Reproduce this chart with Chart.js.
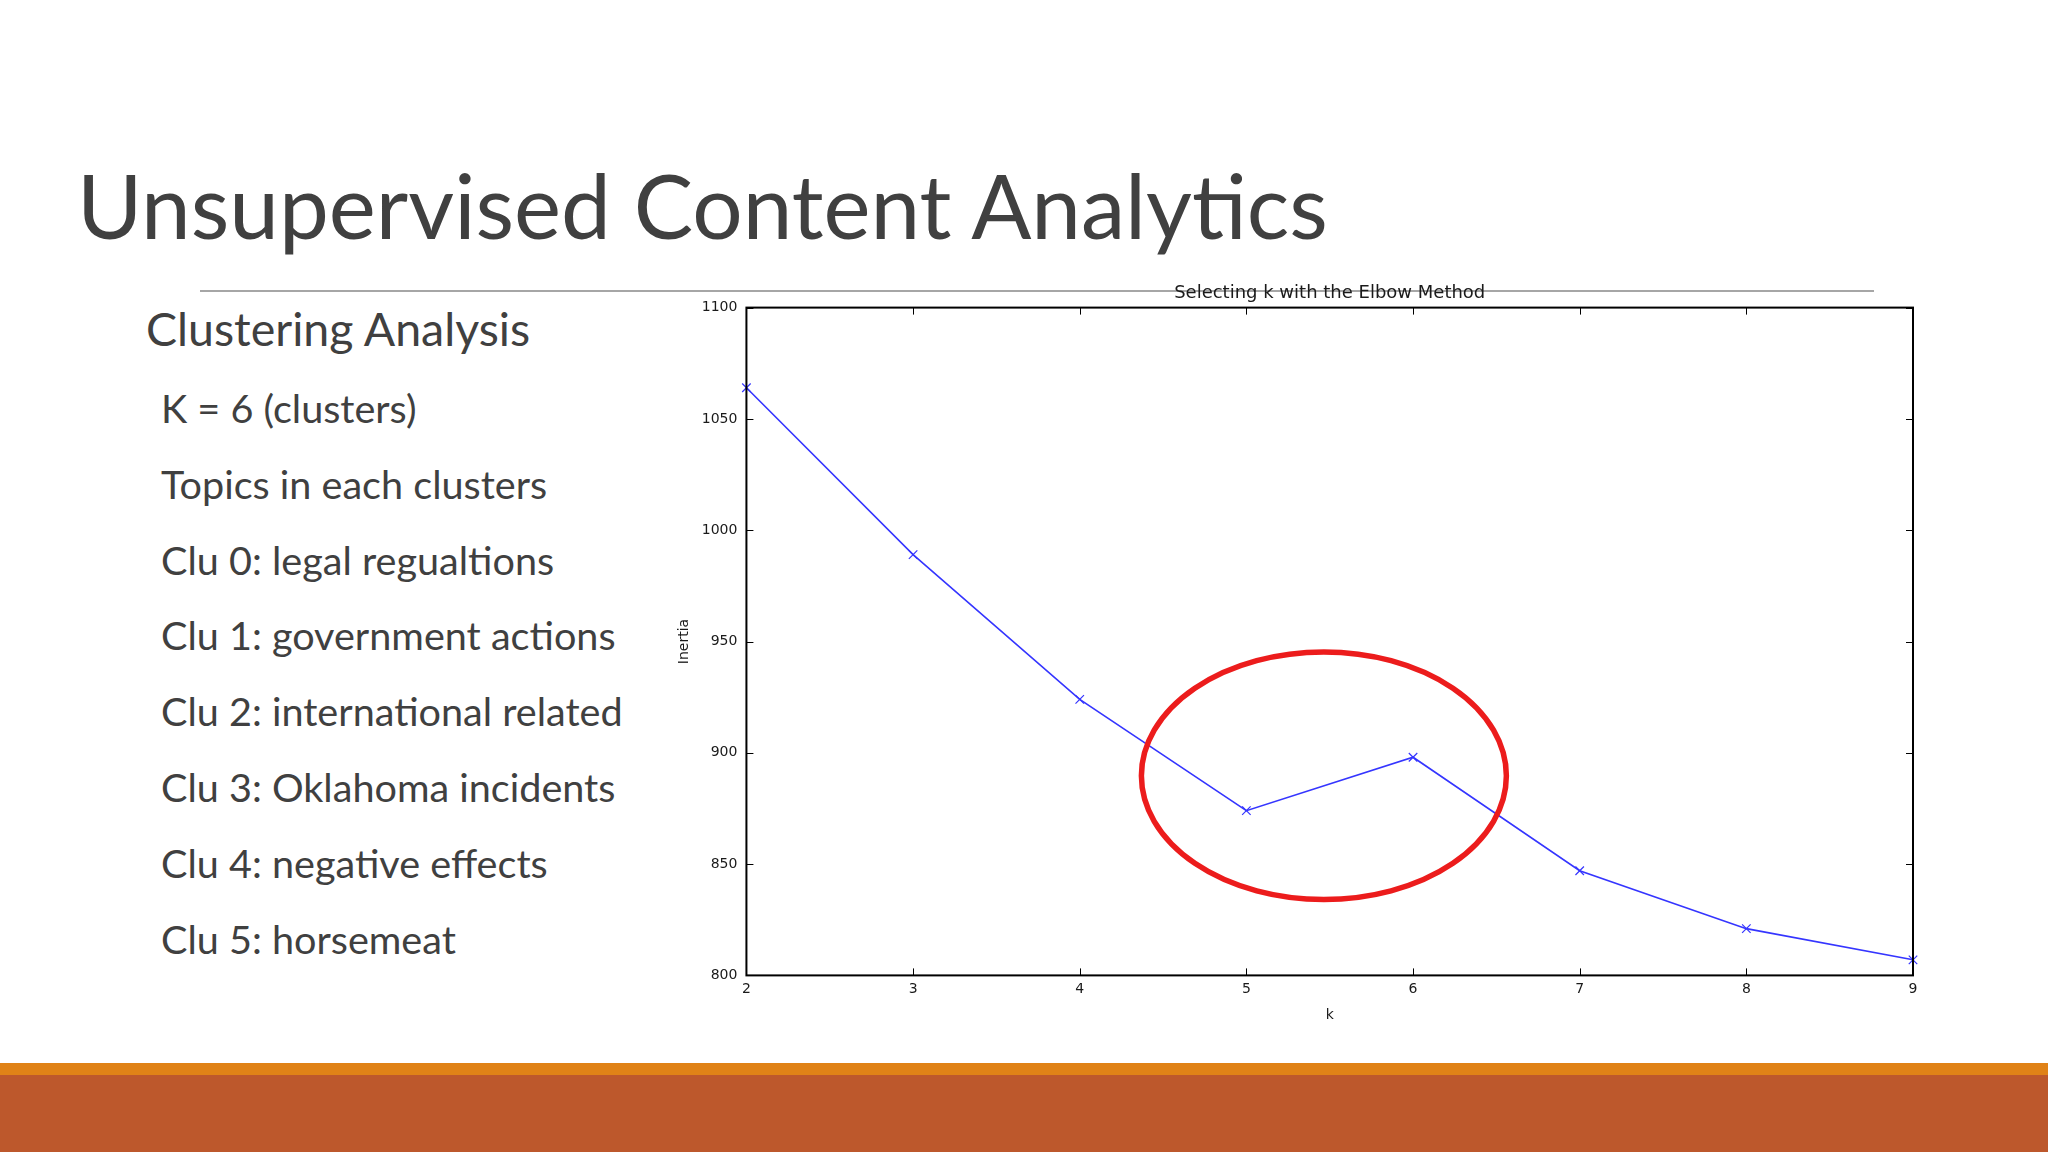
<!DOCTYPE html>
<html>
<head>
<meta charset="utf-8">
<script src="https://cdn.jsdelivr.net/npm/chart.js"></script>
<style>
  html, body { margin: 0; padding: 0; }
  body {
    width: 2048px; height: 1152px; position: relative; overflow: hidden;
    background: #ffffff; font-family: Lato, 'Open Sans', sans-serif; color: #404040;
  }
  #title { position: absolute; left: 77px; top: 160px; font-size: 89px; line-height: 1; white-space: nowrap; }
  #rule { position: absolute; left: 200px; top: 290px; width: 1674px; height: 2px; background: #a6a6a6; }
  #subhead { position: absolute; left: 146px; top: 301px; font-size: 46.5px; line-height: 1.2; white-space: nowrap; }
  .item { position: absolute; left: 161px; font-size: 39.6px; line-height: 1.2; white-space: nowrap; }
  #band1 { position: absolute; left: 0; top: 1063px; width: 2048px; height: 12px; background: #e08217; }
  #band2 { position: absolute; left: 0; top: 1075px; width: 2048px; height: 77px; background: #bd582c; }
  #wrap { position: absolute; left: 600px; top: 270px; width: 1360px; height: 762px; }
</style>
</head>
<body>
<div id="title">Unsupervised Content Analytics</div>
<div id="rule"></div>
<div id="subhead">Clustering Analysis</div>
<div id="items"></div>
<div id="band1"></div>
<div id="band2"></div>
<div id="wrap"><canvas id="myChart"></canvas></div>

<script>
// data
const kValues = [2, 3, 4, 5, 6, 7, 8, 9];
const inertia = [1064, 989, 924, 874, 898, 847, 821, 807];
const yTicks = [800, 850, 900, 950, 1000, 1050, 1100];
const bullets = [
  'K = 6 (clusters)',
  'Topics in each clusters',
  'Clu 0: legal regualtions',
  'Clu 1: government actions',
  'Clu 2: international related',
  'Clu 3: Oklahoma incidents',
  'Clu 4: negative effects',
  'Clu 5: horsemeat'
];
// red circle around the elbow, in data units (center k, center inertia, radius k, radius inertia)
const elbowMark = [5.465, 889.7, 1.095, 55.6];

const itemsDiv = document.getElementById('items');
bullets.forEach((txt, i) => {
  const d = document.createElement('div');
  d.className = 'item';
  d.style.top = (384 + i * 75.8) + 'px';
  d.textContent = txt;
  itemsDiv.appendChild(d);
});

// matplotlib style frame with inward ticks on all four sides
const frameTicks = {
  id: 'frameTicks',
  afterDatasetsDraw(chart) {
    const { ctx, chartArea: a, scales: { x, y } } = chart;
    ctx.save();
    ctx.strokeStyle = '#000';
    ctx.lineWidth = 1;
    ctx.beginPath();
    kValues.forEach(v => {
      const px = Math.round(x.getPixelForValue(v)) + 0.5;
      ctx.moveTo(px, a.bottom); ctx.lineTo(px, a.bottom - 7);
      ctx.moveTo(px, a.top); ctx.lineTo(px, a.top + 7);
    });
    yTicks.forEach(v => {
      const py = Math.round(y.getPixelForValue(v)) + 0.5;
      ctx.moveTo(a.left, py); ctx.lineTo(a.left + 7, py);
      ctx.moveTo(a.right, py); ctx.lineTo(a.right - 7, py);
    });
    ctx.stroke();
    ctx.lineWidth = 2;
    ctx.strokeRect(a.left, a.top, a.right - a.left, a.bottom - a.top);
    ctx.restore();
  }
};

const elbowCircle = {
  id: 'elbowCircle',
  afterDraw(chart) {
    const { ctx, scales: { x, y } } = chart;
    const cx = x.getPixelForValue(elbowMark[0]);
    const cy = y.getPixelForValue(elbowMark[1]);
    const rx = x.getPixelForValue(elbowMark[0] + elbowMark[2]) - cx;
    const ry = cy - y.getPixelForValue(elbowMark[1] + elbowMark[3]);
    ctx.save();
    ctx.strokeStyle = '#ec1c1c';
    ctx.lineWidth = 5.5;
    ctx.beginPath();
    ctx.ellipse(cx, cy, rx, ry, 0, 0, Math.PI * 2);
    ctx.stroke();
    ctx.restore();
  }
};

const ctx = document.getElementById('myChart').getContext('2d');
new Chart(ctx, {
  type: 'line',
  data: {
    datasets: [{
      data: kValues.map((k, i) => ({ x: k, y: inertia[i] })),
      borderColor: '#3535ff',
      borderWidth: 1.6,
      pointStyle: 'crossRot',
      pointRadius: 6,
      pointBorderColor: '#3535ff',
      pointBorderWidth: 1.2,
      tension: 0,
      clip: false
    }]
  },
  options: {
    responsive: true,
    maintainAspectRatio: false,
    animation: false,
    events: [],
    layout: { padding: { left: 74, right: 47, top: 0, bottom: 6 } },
    plugins: {
      legend: { display: false },
      tooltip: { enabled: false },
      title: {
        display: true,
        fullSize: false,
        text: 'Selecting k with the Elbow Method',
        color: '#1a1a1a',
        font: { family: 'DejaVu Sans', size: 18, weight: 'normal' },
        padding: { top: 13, bottom: 3 }
      }
    },
    scales: {
      x: {
        type: 'linear',
        min: 2, max: 9,
        afterBuildTicks: s => { s.ticks = kValues.map(v => ({ value: v })); },
        grid: { display: false, drawTicks: false },
        border: { display: false },
        ticks: { color: '#1a1a1a', padding: 6, font: { family: 'DejaVu Sans', size: 14 }, maxRotation: 0 },
        title: { display: true, text: 'k', color: '#1a1a1a', font: { family: 'DejaVu Sans', size: 14 }, padding: { top: 3, bottom: 2 } }
      },
      y: {
        min: 800, max: 1100,
        afterBuildTicks: s => { s.ticks = yTicks.map(v => ({ value: v })); },
        grid: { display: false, drawTicks: false },
        border: { display: false },
        ticks: { color: '#1a1a1a', padding: 9, font: { family: 'DejaVu Sans', size: 14 }, callback: v => String(v) },
        title: { display: true, text: 'Inertia', color: '#1a1a1a', font: { family: 'DejaVu Sans', size: 14 }, padding: { top: 2, bottom: 0 } }
      }
    }
  },
  plugins: [frameTicks, elbowCircle]
});
</script>
</body>
</html>
